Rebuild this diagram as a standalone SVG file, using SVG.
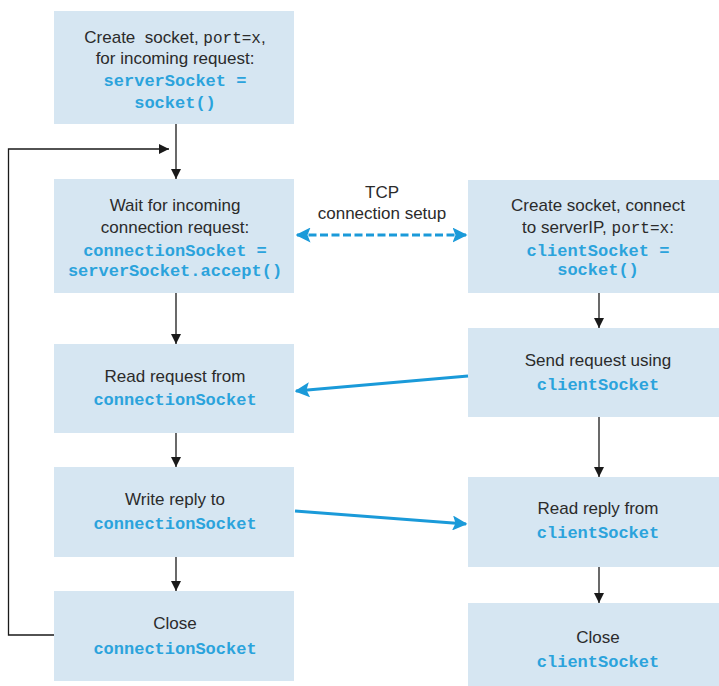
<svg xmlns="http://www.w3.org/2000/svg" width="719" height="686" viewBox="0 0 719 686">
<style>
.box{fill:#d6e6f2;}
.t{font-family:"Liberation Sans",Arial,sans-serif;font-size:17px;fill:#2b2b2b;text-anchor:middle;}
.m{font-family:"Liberation Mono",monospace;font-size:16px;fill:#2b2b2b;font-weight:normal;}
.c{font-family:"Liberation Mono",monospace;font-size:17px;font-weight:bold;fill:#2ba3dc;text-anchor:middle;}
.k{stroke:#1a1a1a;stroke-width:1.3;fill:none;}
.b{stroke:#1a9ad9;stroke-width:3;fill:none;}
</style>
<defs>
<marker id="ah" viewBox="0 0 10 10" refX="10" refY="5" markerWidth="10" markerHeight="10" markerUnits="userSpaceOnUse" orient="auto">
<path d="M0,0 L10,5 L0,10 Z" fill="#1a1a1a"/>
</marker>
<marker id="bh" viewBox="0 0 10 10" refX="9" refY="5" markerWidth="5" markerHeight="5" orient="auto-start-reverse">
<path d="M0,0 L10,5 L0,10 L2,5 Z" fill="#1a9ad9"/>
</marker>
</defs>
<rect width="719" height="686" fill="#ffffff"/>

<g id="n1"><rect class="box" x="54" y="11" width="240" height="113"/>
<text class="t" x="175" y="43" style="white-space:pre">Create  socket, <tspan class="m">port=x</tspan>,</text>
<text class="t" x="175" y="64">for incoming request:</text>
<text class="c" x="175" y="86">serverSocket =</text>
<text class="c" x="175" y="108">socket()</text></g>

<g id="n2"><rect class="box" x="54" y="179" width="240" height="114"/>
<text class="t" x="175" y="211">Wait for incoming</text>
<text class="t" x="175" y="233">connection request:</text>
<text class="c" x="175" y="256">connectionSocket =</text>
<text class="c" x="175" y="276">serverSocket.accept()</text></g>

<g id="n3"><rect class="box" x="54" y="344" width="240" height="89"/>
<text class="t" x="175" y="382">Read request from</text>
<text class="c" x="175" y="405">connectionSocket</text></g>

<g id="n4"><rect class="box" x="54" y="467" width="240" height="90"/>
<text class="t" x="175" y="505">Write reply to</text>
<text class="c" x="175" y="529">connectionSocket</text></g>

<g id="n5"><rect class="box" x="54" y="591" width="240" height="90"/>
<text class="t" x="175" y="629">Close</text>
<text class="c" x="175" y="654">connectionSocket</text></g>

<g id="n6"><rect class="box" x="468" y="180" width="251" height="113"/>
<text class="t" x="598" y="211">Create socket, connect</text>
<text class="t" x="598" y="233">to serverIP, <tspan class="m">port=x</tspan>:</text>
<text class="c" x="598" y="256">clientSocket =</text>
<text class="c" x="598" y="275">socket()</text></g>

<g id="n7"><rect class="box" x="468" y="328" width="251" height="89"/>
<text class="t" x="598" y="366">Send request using</text>
<text class="c" x="598" y="390">clientSocket</text></g>

<g id="n8"><rect class="box" x="468" y="477" width="251" height="90"/>
<text class="t" x="598" y="514">Read reply from</text>
<text class="c" x="598" y="538">clientSocket</text></g>

<g id="n9"><rect class="box" x="468" y="603" width="251" height="83"/>
<text class="t" x="598" y="643">Close</text>
<text class="c" x="598" y="667">clientSocket</text></g>

<g id="lbl"><text class="t" x="382" y="198">TCP</text>
<text class="t" x="382" y="219">connection setup</text></g>

<g id="connectors">
<line class="k" x1="176" y1="124" x2="176" y2="179" marker-end="url(#ah)"/>
<line class="k" x1="176" y1="293" x2="176" y2="344" marker-end="url(#ah)"/>
<line class="k" x1="176" y1="433" x2="176" y2="467" marker-end="url(#ah)"/>
<line class="k" x1="176" y1="557" x2="176" y2="591" marker-end="url(#ah)"/>
<polyline class="k" points="54,635 8.5,635 8.5,149 169,149" marker-end="url(#ah)"/>
<line class="k" x1="599" y1="293" x2="599" y2="328" marker-end="url(#ah)"/>
<line class="k" x1="599" y1="417" x2="599" y2="477" marker-end="url(#ah)"/>
<line class="k" x1="599" y1="567" x2="599" y2="603" marker-end="url(#ah)"/>
<line class="b" x1="297" y1="235" x2="466" y2="235" stroke-width="3.5" stroke-dasharray="8,3.5" marker-start="url(#bh)" marker-end="url(#bh)"/>
<line class="b" x1="468" y1="376" x2="296" y2="391" marker-end="url(#bh)"/>
<line class="b" x1="295" y1="511" x2="466" y2="524" marker-end="url(#bh)"/>
</g>
</svg>
